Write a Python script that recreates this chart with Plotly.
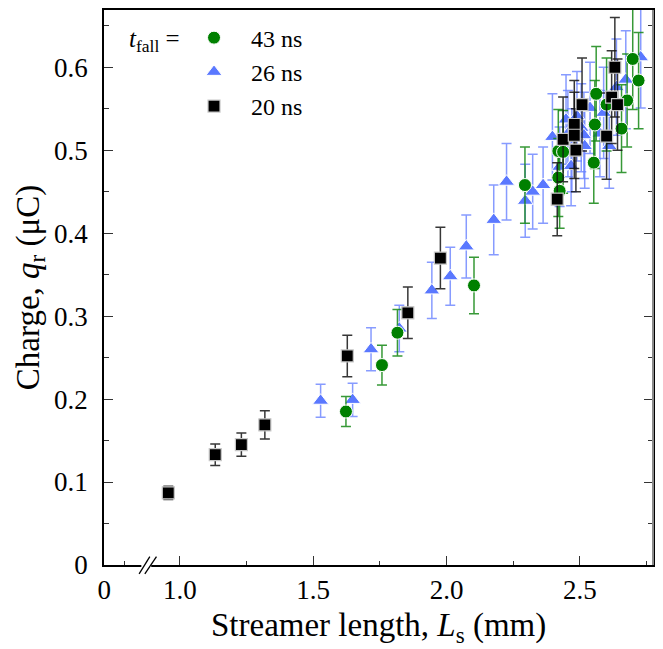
import plotly.graph_objects as go

# Streamer length L_s (mm), charge q_r (uC) and its uncertainty for each fall time
len_20 = [0.957, 1.133, 1.231, 1.319, 1.628, 1.855, 1.977, 2.415, 2.437, 2.479,
          2.479, 2.485, 2.508, 2.600, 2.619, 2.641, 2.631]
q_20 = [0.087, 0.133, 0.145, 0.169, 0.252, 0.304, 0.370, 0.441, 0.513, 0.531,
        0.518, 0.500, 0.555, 0.517, 0.564, 0.555, 0.600]
err_20 = [0.008, 0.013, 0.014, 0.017, 0.025, 0.031, 0.037, 0.044, 0.051, 0.053,
          0.052, 0.050, 0.056, 0.052, 0.056, 0.055, 0.060]

len_26 = [1.528, 1.648, 1.717, 1.823, 1.945, 2.014, 2.074, 2.177, 2.225, 2.295,
          2.323, 2.362, 2.397, 2.424, 2.467, 2.448, 2.489, 2.505, 2.515, 2.538,
          2.518, 2.575, 2.589, 2.637, 2.672, 2.728, 2.470, 2.455, 2.610]
q_26 = [0.198, 0.199, 0.260, 0.285, 0.331, 0.348, 0.384, 0.416, 0.462, 0.439,
        0.450, 0.458, 0.516, 0.480, 0.481, 0.537, 0.541, 0.527, 0.518, 0.551,
        0.505, 0.520, 0.545, 0.576, 0.585, 0.612, 0.500, 0.520, 0.505]
err_26 = [0.020, 0.020, 0.026, 0.028, 0.034, 0.035, 0.038, 0.042, 0.046, 0.044,
          0.045, 0.046, 0.052, 0.048, 0.048, 0.054, 0.054, 0.053, 0.052, 0.055,
          0.051, 0.052, 0.055, 0.058, 0.059, 0.061, 0.050, 0.052, 0.051]

len_43 = [1.623, 1.758, 1.816, 2.103, 2.294, 2.419, 2.424, 2.419, 2.437, 2.552,
          2.556, 2.561, 2.600, 2.656, 2.677, 2.720, 2.698]
q_43 = [0.185, 0.241, 0.280, 0.337, 0.458, 0.467, 0.451, 0.499, 0.498, 0.485,
        0.531, 0.568, 0.555, 0.526, 0.560, 0.584, 0.610]
err_43 = [0.018, 0.024, 0.028, 0.034, 0.046, 0.047, 0.045, 0.050, 0.050, 0.049,
          0.053, 0.057, 0.056, 0.053, 0.056, 0.058, 0.061]

# broken x axis: the left edge stands for zero
x_start = 0.717
x_end = 2.774
x_tick_vals = [x_start, 1.0, 1.5, 2.0, 2.5]
x_tick_text = ["0", "1.0", "1.5", "2.0", "2.5"]
x_minor_vals = [0.791, 1.25, 1.75, 2.25, 2.75]

FONT = "Liberation Serif, Times New Roman, Times, serif"
TICK_SIZE = 27
TITLE_SIZE = 33
LEGEND_SIZE = 24

fig = go.Figure()

fig.add_trace(go.Scatter(
    x=len_26, y=q_26, mode="markers", name="26 ns", legendrank=2,
    marker=dict(symbol="triangle-up", size=14, color="#5a78ff",
                line=dict(color="white", width=1)),
    error_y=dict(type="data", array=err_26, color="rgba(105,130,255,0.8)",
                 thickness=1.5, width=5),
))
fig.add_trace(go.Scatter(
    x=len_43, y=q_43, mode="markers", name="43 ns", legendrank=1,
    marker=dict(symbol="circle", size=13, color="#008000",
                line=dict(color="white", width=1)),
    error_y=dict(type="data", array=err_43, color="rgba(20,135,20,0.85)",
                 thickness=1.5, width=5),
))
fig.add_trace(go.Scatter(
    x=len_20, y=q_20, mode="markers", name="20 ns", legendrank=3,
    marker=dict(symbol="square", size=12, color="black",
                line=dict(color="#c8c8c8", width=1.2)),
    error_y=dict(type="data", array=err_20, color="rgba(20,20,20,0.85)",
                 thickness=1.5, width=5),
))

axis_common = dict(
    showgrid=False, zeroline=False, showline=True, linecolor="black",
    linewidth=1.5, ticks="inside", ticklen=9, tickwidth=1.3, tickcolor="#333",
    tickfont=dict(family=FONT, size=TICK_SIZE, color="black"),
)

fig.update_xaxes(
    **axis_common, range=[x_start - 0.001, x_end], mirror=True,
    tickmode="array", tickvals=x_tick_vals, ticktext=x_tick_text,
    minor=dict(tickmode="array", tickvals=x_minor_vals, ticks="inside",
               ticklen=4, tickwidth=1.3, tickcolor="#333"),
    ticklabelstandoff=0,
)
fig.update_yaxes(
    **axis_common, range=[0, 0.669], mirror="ticks", dtick=0.1,
    minor=dict(dtick=0.05, ticks="inside", ticklen=5, tickwidth=1.3,
               tickcolor="#333"),
    title=dict(text="Charge, <i>q</i><sub>r</sub> (μC)",
               font=dict(family=FONT, size=TITLE_SIZE, color="black"),
               standoff=5),
    ticklabelstandoff=9,
)

# x-axis title placed below the tick labels
fig.add_annotation(
    text="Streamer length, <i>L</i><sub>s</sub> (mm)", xref="paper",
    yref="paper", x=0.5, y=-0.112, xanchor="center", yanchor="middle",
    showarrow=False, font=dict(family=FONT, size=TITLE_SIZE, color="black"),
)

# axis-break marks on the x axis and the grey right frame edge
fig.add_shape(type="line", xref="paper", yref="paper", x0=0.068, x1=0.086,
              y0=0, y1=0, line=dict(color="white", width=4), layer="above")
for x0, x1 in [(0.064, 0.0835), (0.0744, 0.0956)]:
    fig.add_shape(type="line", xref="paper", yref="paper", x0=x0, x1=x1,
                  y0=-0.016, y1=0.015, line=dict(color="black", width=1.3),
                  layer="above")
fig.add_shape(type="line", xref="paper", yref="paper", x0=1, x1=1, y0=0, y1=1,
              line=dict(color="#8a8a8a", width=2), layer="above")

# legend heading
fig.add_annotation(
    text="<i>t</i><sub>fall</sub> =", xref="paper", yref="paper",
    x=0.042, y=0.945, xanchor="left", yanchor="middle", showarrow=False,
    font=dict(family=FONT, size=25, color="black"),
)

fig.update_layout(
    width=663, height=649,
    margin=dict(l=104, r=8, t=8, b=84),
    plot_bgcolor="white", paper_bgcolor="white",
    font=dict(family=FONT, color="black"),
    legend=dict(
        x=0.133, y=0.99, xanchor="left", yanchor="top",
        bgcolor="rgba(0,0,0,0)", itemwidth=64,
        font=dict(family=FONT, size=LEGEND_SIZE, color="black"),
        tracegroupgap=0,
    ),
)

fig.write_html("out.html")
